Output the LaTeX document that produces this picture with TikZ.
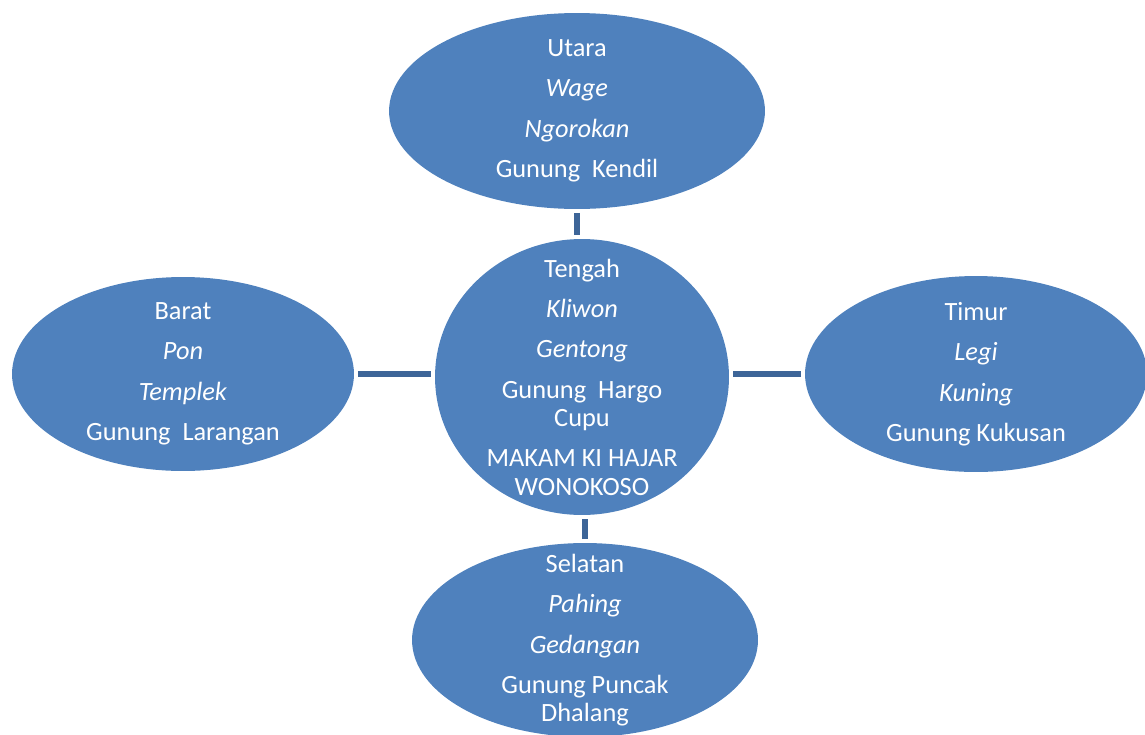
\documentclass[tikz,border=0pt]{standalone}
\usepackage{fontspec}
\setmainfont{Carlito}
\usetikzlibrary{shapes.geometric, positioning}
\definecolor{blobblue}{HTML}{4F81BD}
\definecolor{linkblue}{HTML}{3D6598}

\tikzset{
    blob/.style={ellipse, fill=blobblue, draw=none, inner sep=0pt},
    lbl/.style={align=center, text=white, font=\fontsize{15}{16}\selectfont, inner sep=0pt},
    link/.style={draw=linkblue, line width=3pt, shorten >=2pt, shorten <=2pt},
}

\begin{document}
\begin{tikzpicture}[x=0.02cm, y=-0.02cm]
    \useasboundingbox (0,0) rectangle (1145,734);

    % --- ellipses ---
    \node[blob, minimum width=7.52cm, minimum height=3.92cm] (utara) at (577,111) {};
    \node[blob, minimum width=5.88cm, minimum height=5.52cm] (tengah) at (582,377) {};
    \node[blob, minimum width=6.84cm, minimum height=3.88cm] (barat) at (183,374) {};
    \node[blob, minimum width=6.84cm, minimum height=3.92cm] (timur) at (976,374) {};
    \node[blob, minimum width=6.92cm, minimum height=3.88cm] (selatan) at (585,640) {};

    % --- connectors ---
    \draw[link] (utara.south) -- (utara.south |- tengah.north);
    \draw[link] (barat.east) -- (barat.east -| tengah.west);
    \draw[link] (timur.west) -- (timur.west -| tengah.east);
    \draw[link] (selatan.north) -- (selatan.north |- tengah.south);

    % --- texts ---
    \node[lbl] (utaratext) at (utara) {Utara\\[7pt]\textit{Wage}\\[7pt]\textit{Ngorokan}\\[7pt]Gunung~~Kendil};
    \node[lbl] (tengahtext) at (tengah) {Tengah\\[7pt]\textit{Kliwon}\\[7pt]\textit{Gentong}\\[7pt]Gunung~~Hargo\\Cupu\\[7pt]MAKAM KI HAJAR\\WONOKOSO};
    \node[lbl] (barattext) at (barat) {Barat\\[7pt]\textit{Pon}\\[7pt]\textit{Templek}\\[7pt]Gunung~~Larangan};
    \node[lbl] (timurtext) at (timur) {Timur\\[7pt]\textit{Legi}\\[7pt]\textit{Kuning}\\[7pt]Gunung Kukusan};
    \node[lbl] (selatantext) at (selatan) {Selatan\\[7pt]\textit{Pahing}\\[7pt]\textit{Gedangan}\\[7pt]Gunung Puncak\\Dhalang};
\end{tikzpicture}
\end{document}
